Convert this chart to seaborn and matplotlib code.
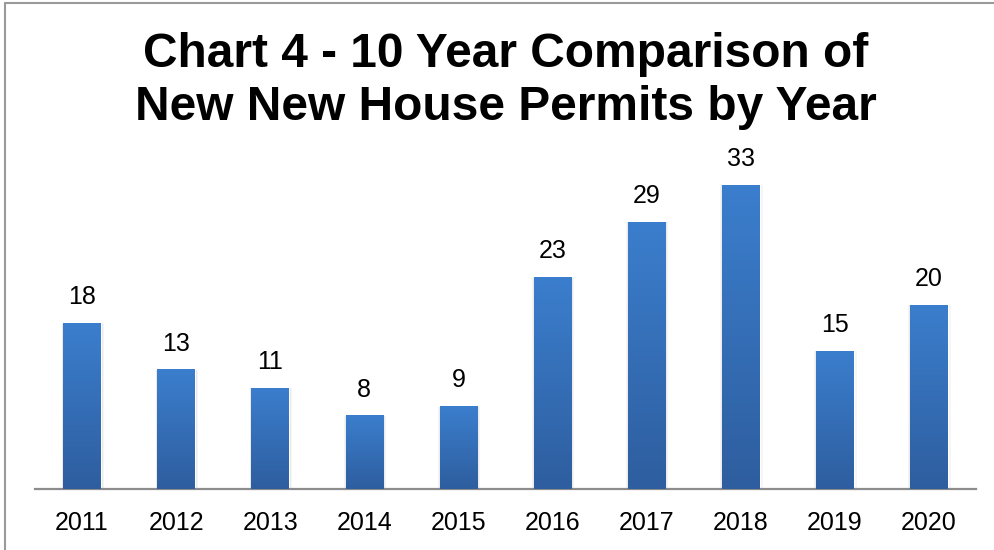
import numpy as np
import pandas as pd
import matplotlib
matplotlib.use("Agg")
import matplotlib.pyplot as plt
import seaborn as sns
from matplotlib.colors import LinearSegmentedColormap

# Data
years = ["2011", "2012", "2013", "2014", "2015", "2016", "2017", "2018", "2019", "2020"]
permits = [18, 13, 11, 8, 9, 23, 29, 33, 15, 20]
title = "Chart 4 - 10 Year Comparison of\nNew New House Permits by Year"

df = pd.DataFrame({"Year": years, "Permits": permits})

sns.set_theme(style="white")
plt.rcParams['font.family'] = ['Liberation Sans', 'DejaVu Sans']

fig = plt.figure(figsize=(9.95, 5.5), dpi=100)
ax = fig.add_axes([35 / 995, 61 / 550, 941 / 995, 322.4 / 550])

sns.barplot(data=df, x="Year", y="Permits", color="#3A7BC8", width=0.40,
            saturation=1, ax=ax, zorder=2)

# vertical gradient + soft shadow on each bar
grad = LinearSegmentedColormap.from_list("barg", ["#2E5E9F", "#3B7ECD"])
for p in ax.patches:
    x0, y0 = p.get_x(), p.get_y()
    w, h = p.get_width(), p.get_height()
    for k, a in [(0.035, 0.04), (0.02, 0.06)]:
        sh = plt.Rectangle((x0 - k * 0.5, y0), w + k * 1.4, h - 0.05,
                           color="#000000", alpha=a, lw=0, zorder=1)
        ax.add_patch(sh)
    im = ax.imshow(np.linspace(0, 1, 100).reshape(-1, 1), cmap=grad, aspect="auto",
                   extent=[x0, x0 + w, y0, y0 + h], origin="lower", zorder=3)
    im.set_clip_path(p)

for i, v in enumerate(permits):
    ax.annotate(str(v), (i, v), xytext=(0, 18.5), textcoords="offset points",
                ha="center", va="center", fontsize=18, color="black")

ax.set_xlim(-0.5, 9.5)
ax.set_ylim(0, 35)
ax.set_xlabel("")
ax.set_ylabel("")
ax.set_yticks([])
ax.tick_params(axis="x", length=0, pad=15.5, labelsize=18, labelcolor="black")
for s in ["top", "right", "left"]:
    ax.spines[s].set_visible(False)
ax.spines["bottom"].set_color("#8C8C8C")
ax.spines["bottom"].set_linewidth(1.6)
ax.set_facecolor("none")

fig.text(506 / 995, 1 - 81 / 550, title, ha="center", va="center",
         fontsize=34.5, fontweight="bold", color="black", linespacing=1.21)

# thin grey frame on left and top like the source
fig.add_artist(plt.Line2D([5 / 995, 5 / 995], [0, 1 - 3 / 550], transform=fig.transFigure,
                          color="#9A9A9A", lw=1.5))
fig.add_artist(plt.Line2D([5 / 995, 1], [1 - 3 / 550, 1 - 3 / 550], transform=fig.transFigure,
                          color="#9A9A9A", lw=1.5))

fig.savefig("out.png", dpi=100)
